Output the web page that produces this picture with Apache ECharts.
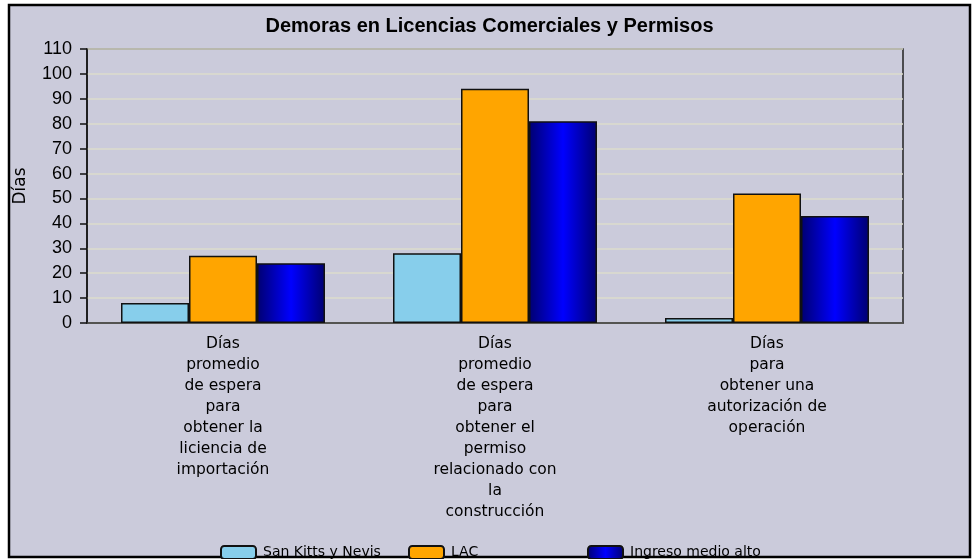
<!DOCTYPE html>
<html><head><meta charset="utf-8">
<script src="https://cdn.jsdelivr.net/npm/echarts@6/dist/echarts.min.js"></script>
<style>html,body{margin:0;padding:0;background:#fff}#c{width:979px;height:559px}</style>
</head><body><div id="c"></div>
<script>
const categories = [
  "Días\npromedio\nde espera\npara\nobtener la\nliciencia de\nimportación",
  "Días\npromedio\nde espera\npara\nobtener el\npermiso\nrelacionado con\nla\nconstrucción",
  "Días\npara\nobtener una\nautorización de\noperación"
];
const seriesNames = ["San Kitts y Nevis", "LAC", "Ingreso medio alto"];
const sanKitts = [8, 28, 2];
const lac = [27, 94, 52];
const ingreso = [24, 81, 43];
const yTicks = [0, 110, 10];

const blueGrad = new echarts.graphic.LinearGradient(0, 0, 1, 0, [
  {offset: 0, color: '#000070'}, {offset: 0.5, color: '#0000ff'}, {offset: 1, color: '#000070'}
]);
const chart = echarts.init(document.getElementById('c'));
const legendText = {fontFamily: 'DejaVu Sans', fontSize: 14, color: '#000', padding: [0, 0, 0, 2]};
function lg(name, left) {
  return {data: [name], left: left, top: 540, itemWidth: 35, itemHeight: 13, itemGap: 0,
    textStyle: legendText, selectedMode: false, icon: 'roundRect'};
}
chart.setOption({
  animation: false,
  backgroundColor: '#fff',
  graphic: [{type: 'rect', z: -100, silent: true,
    shape: {x: 9, y: 5, width: 961, height: 552},
    style: {fill: '#cbcbdb', stroke: '#000', lineWidth: 2.5}}],
  title: {text: 'Demoras en Licencias Comerciales y Permisos', left: 'center', top: 11,
    textStyle: {fontFamily: 'Liberation Sans', fontWeight: 'bold', fontSize: 20, color: '#000'}},
  legend: [lg(seriesNames[0], 215), lg(seriesNames[1], 403), lg(seriesNames[2], 582)],
  grid: {left: 87, right: 76, top: 49, bottom: 236, show: true, borderColor: '#222', borderWidth: 1.5, backgroundColor: 'transparent'},
  xAxis: {type: 'category', data: categories,
    axisLine: {lineStyle: {color: '#333', width: 1.5}}, axisTick: {show: false},
    axisLabel: {interval: 0, margin: 10, lineHeight: 21, fontFamily: 'DejaVu Sans', fontSize: 15.5, color: '#000', align: 'center'}},
  yAxis: {type: 'value', min: yTicks[0], max: yTicks[1], interval: yTicks[2],
    name: 'Días', nameLocation: 'middle', nameGap: 58, nameRotate: 90,
    nameTextStyle: {fontFamily: 'DejaVu Sans', fontSize: 17, color: '#000'},
    axisLine: {show: true, lineStyle: {color: '#111', width: 1.5}},
    axisTick: {show: true, length: 7, lineStyle: {color: '#111', width: 1.5}},
    axisLabel: {fontFamily: 'Liberation Sans', fontSize: 18, color: '#000', margin: 15},
    splitLine: {lineStyle: {color: '#dcdccd', width: 1.5}}},
  series: [
    {name: seriesNames[0], type: 'bar', data: sanKitts, barGap: '0%', barCategoryGap: '25%',
      itemStyle: {color: '#87ceeb', borderColor: '#111', borderWidth: 1.5}},
    {name: seriesNames[1], type: 'bar', data: lac,
      itemStyle: {color: '#ffa500', borderColor: '#111', borderWidth: 1.5}},
    {name: seriesNames[2], type: 'bar', data: ingreso,
      itemStyle: {color: blueGrad, borderColor: '#111', borderWidth: 1.5}}
  ]
});
</script></body></html>
